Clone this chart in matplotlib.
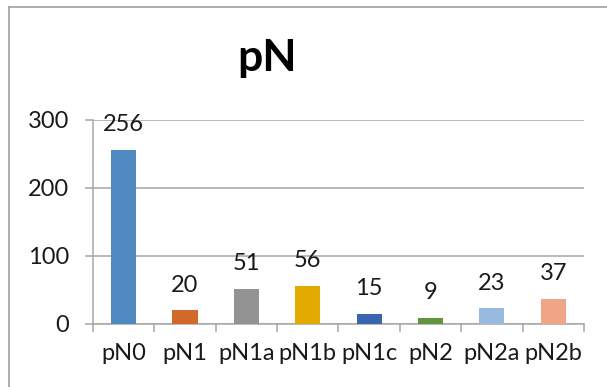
import matplotlib
matplotlib.use("Agg")
import matplotlib.pyplot as plt
from matplotlib.lines import Line2D
import numpy as np

plt.rcParams['font.family'] = ['Lato', 'DejaVu Sans']

# 各分期病例数
categories = ['pN0', 'pN1', 'pN1a', 'pN1b', 'pN1c', 'pN2', 'pN2a', 'pN2b']
counts = [256, 20, 51, 56, 15, 9, 23, 37]
bar_colors = ['#4F89C0', '#D2692A', '#939393', '#E3AA00',
              '#3A64AE', '#5F963B', '#98B9E0', '#F0A587']
y_ticks = [0, 100, 200, 300]

grid_color = '#A6A6A6'
text_color = '#1A1A1A'
fs = 17

fig = plt.figure(figsize=(6.07, 3.87), dpi=100)
ax = fig.add_axes([0.1532, 0.1628, 0.962 - 0.1532, 0.691 - 0.1628])

x = np.arange(len(categories))
ax.bar(x, counts, width=0.41, color=bar_colors, zorder=3)

# 数据标签
for xi, v in zip(x, counts):
    ax.annotate(str(v), (xi, v), xytext=(0, 13.5), textcoords='offset points',
                ha='center', va='baseline', fontsize=fs, color=text_color)

ax.set_xlim(-0.5, len(categories) - 0.5)
ax.set_ylim(0, 300)
ax.set_yticks(y_ticks)
ax.yaxis.grid(True, color=grid_color, linewidth=1.1, zorder=0)

# 类别刻度放在分隔处
ax.set_xticks(x)
ax.set_xticklabels(categories)
ax.set_xticks(np.arange(len(categories) + 1) - 0.5, minor=True)
ax.tick_params(axis='x', which='major', length=0, pad=14,
               labelsize=fs, labelcolor=text_color)
ax.tick_params(axis='x', which='minor', length=6, width=1.1, color=grid_color)
ax.tick_params(axis='y', length=6, width=1.1, color=grid_color,
               labelsize=fs, labelcolor=text_color, pad=11)

for side in ['top', 'right']:
    ax.spines[side].set_visible(False)
for side in ['left', 'bottom']:
    ax.spines[side].set_color(grid_color)
    ax.spines[side].set_linewidth(1.1)

fig.text(0.44, 1 - 58 / 387, 'pN', ha='center', va='center',
         fontsize=32, fontweight='bold', color='black')

# 图表外框（左、上）
fig.add_artist(Line2D([9 / 607, 9 / 607], [0, 1 - 7 / 387],
                      transform=fig.transFigure, color='#A0A0A0', linewidth=1.2))
fig.add_artist(Line2D([9 / 607, 1], [1 - 7 / 387, 1 - 7 / 387],
                      transform=fig.transFigure, color='#A0A0A0', linewidth=1.2))

fig.savefig('out.png', dpi=100, facecolor='white')
